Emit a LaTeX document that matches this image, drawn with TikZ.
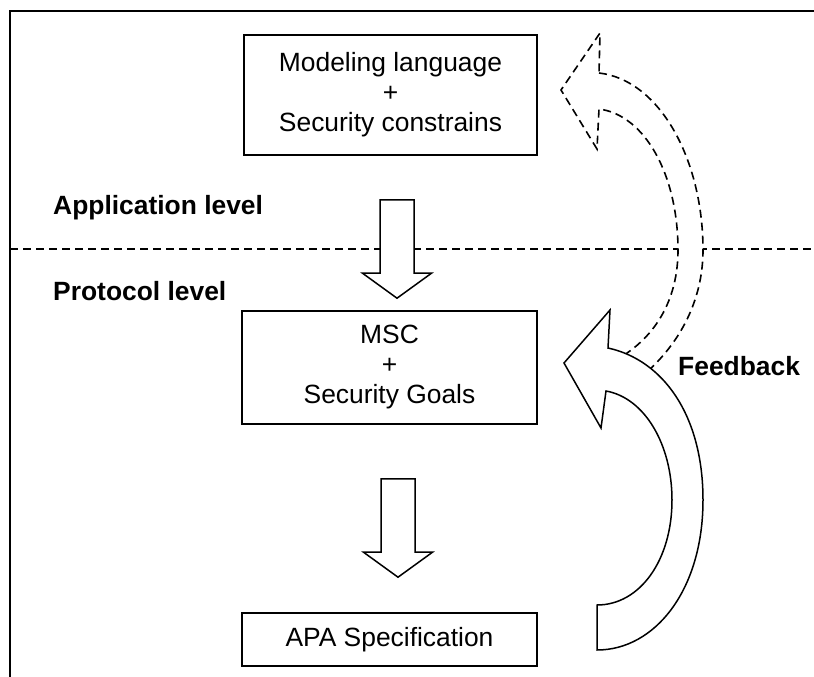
\documentclass[tikz,border=0pt]{standalone}
\usepackage{fontspec}
\setmainfont{Liberation Sans}
\usetikzlibrary{calc}
\tikzset{
  box/.style={draw, line width=1.6pt, fill=white, align=center, inner sep=0pt,
    font=\fontsize{26.4}{30}\selectfont},
  lvl/.style={font=\fontsize{26.4}{30}\selectfont\bfseries, inner sep=0pt},
  blockarrow/.style={draw, line width=1.5pt, fill=white, line join=miter},
  dashline/.style={line width=1.6pt, dash pattern=on 8pt off 5pt},
  frame/.style={line width=1.6pt},
}
\newcommand\blockarrowdown[2]{%
  \path[blockarrow] let \p1=(#1), \p2=(#2) in
    (\x1-17pt,\y1) -- (\x1+17pt,\y1) -- (\x1+17pt,\y2+25pt) -- (\x1+34.5pt,\y2+25pt)
    -- (\x1,\y2) -- (\x1-34.5pt,\y2+25pt) -- (\x1-17pt,\y2+25pt) -- cycle;}
\begin{document}
\begin{tikzpicture}[x=1pt,y=-1pt]
\useasboundingbox (0,0) rectangle (814,677);
% frame
\draw[frame] (814,11) -- (10,11) -- (10,677);
% level separator
\coordinate (sepL) at (10,249);
\coordinate (sepR) at (814,249);
\draw[dashline] (sepL) -- (sepR);
% dashed feedback arrow (behind)
\draw[dashline, fill=white, line join=miter]
  (599,73) .. controls (660,80) and (703,160) .. (703,250)
  .. controls (703,300) and (680,345) .. (640,378)
  -- (612,362)
  .. controls (655,340) and (678,300) .. (678,250)
  .. controls (678,175) and (645,115) .. (599,109)
  -- (597,149) -- (561,90) -- (600,33) -- cycle;
% solid feedback arrow
\draw[blockarrow]
  (597,650) .. controls (655,650) and (703,590) .. (703,500)
  .. controls (703,415) and (663,360) .. (608,348)
  -- (610,310) -- (564,363) -- (601,428) -- (606,391)
  .. controls (645,398) and (672,445) .. (672,500)
  .. controls (672,560) and (640,605) .. (597,605) -- cycle;
% boxes
\node[box, minimum width=293pt, minimum height=120pt] (box1) at (390.5,95)
  {Modeling language\\+\\Security constrains};
\node[box, minimum width=295pt, minimum height=113pt] (box2) at (389.5,367.5)
  {MSC\\+\\Security Goals};
\node[box, minimum width=295pt, minimum height=53pt] (box3) at (389.5,639.5)
  {APA Specification};
% block arrows
\coordinate (a1s) at ($(box1.south)+(6.5,44)$);
\coordinate (a1e) at ($(box2.north)+(7.5,-12)$);
\coordinate (a2s) at ($(box2.south)+(8.5,54)$);
\coordinate (a2e) at ($(box3.north)+(7.5,-35)$);
\blockarrowdown{a1s}{a1e}
\blockarrowdown{a2s}{a2e}
% labels
\node[lvl, anchor=base west] (app) at (53,214) {Application level};
\node[lvl, anchor=base west] (prot) at (53,300) {Protocol level};
\node[lvl, anchor=base west] (fb) at (678,375) {Feedback};
\end{tikzpicture}
\end{document}
